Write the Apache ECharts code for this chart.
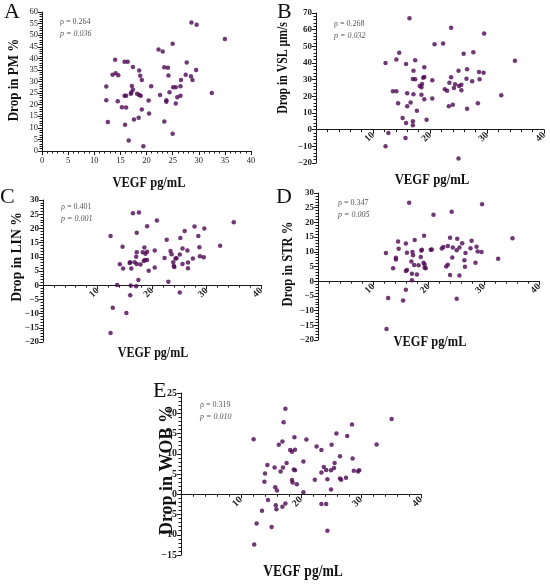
<!DOCTYPE html>
<html><head><meta charset="utf-8">
<script src="https://cdn.jsdelivr.net/npm/echarts@6/dist/echarts.min.js"></script>
<style>html,body{margin:0;padding:0;background:#fff}#c{width:550px;height:584px}</style>
</head><body><div id="c"></div>
<script>
// ---- data: [VEGF pg/mL, drop value] ----
const pmPoints = [[28.6,55.5],[29.6,54.5],[35.0,48.3],[25.0,46.3],[22.3,43.8],[23.1,43.0],[14.0,39.4],[15.8,38.5],[16.4,38.5],[27.7,38.2],[17.4,36.3],[23.4,36.1],[24.1,35.9],[18.6,34.8],[29.5,35.0],[13.5,32.9],[14.1,33.6],[14.6,32.7],[18.8,32.5],[19.1,30.7],[24.2,32.6],[27.5,32.9],[28.5,32.3],[28.8,30.7],[26.6,30.6],[12.3,27.8],[12.3,21.9],[20.9,28.0],[17.2,28.1],[17.4,26.4],[17.1,25.2],[17.0,24.7],[25.1,27.5],[25.6,27.5],[26.5,28.0],[18.2,24.7],[18.6,24.2],[18.9,23.8],[15.8,23.8],[16.1,23.9],[22.6,24.2],[26.5,23.9],[25.9,23.2],[24.4,25.4],[23.8,21.9],[23.8,21.3],[14.5,21.5],[20.4,21.8],[25.6,20.5],[15.3,18.9],[16.1,18.8],[19.1,17.9],[20.5,16.2],[12.6,12.5],[15.9,11.3],[17.6,13.6],[18.5,14.4],[23.4,12.7],[25.0,7.5],[16.6,4.5],[19.4,2.0],[32.5,25.0]];
const vslPoints = [[16.4,66.8],[23.7,61.2],[29.5,57.7],[20.8,51.3],[22.3,51.7],[25.9,45.5],[27.6,46.5],[34.9,41.4],[15.8,39.4],[17.4,41.7],[17.1,35.4],[19.0,37.4],[17.0,30.4],[17.4,30.2],[18.8,31.2],[19.0,31.6],[18.2,26.2],[18.5,25.4],[18.6,27.4],[20.4,29.6],[25.0,35.4],[26.5,36.2],[28.6,34.6],[29.4,34.2],[23.7,31.4],[26.4,30.6],[28.7,30.2],[27.4,29.0],[23.4,28.2],[22.6,24.3],[23.0,23.3],[24.4,27.2],[24.2,25.0],[25.1,26.2],[25.5,27.0],[25.5,23.7],[16.0,21.9],[17.1,21.3],[18.5,20.9],[19.0,18.3],[20.4,18.7],[32.5,20.7],[23.3,14.1],[24.0,14.9],[28.4,15.9],[26.5,12.5],[16.6,16.3],[16.0,14.1],[17.7,11.3],[19.4,6.0],[15.2,7.0],[15.8,4.0],[17.0,5.0],[17.0,2.6],[15.7,-5.0],[25.0,-17.3],[12.2,40.0],[12.2,-9.9],[12.7,-2.0],[13.5,23.1],[14.1,23.1],[14.1,42.1],[14.6,46.1],[14.4,15.9]];
const linPoints = [[16.5,25.3],[17.6,25.6],[20.9,22.8],[12.4,17.3],[19.1,20.8],[17.2,18.5],[35.0,22.2],[27.8,20.7],[29.6,20.0],[26.0,19.1],[28.5,17.3],[22.7,16.0],[25.2,16.6],[32.5,13.9],[28.7,13.4],[14.6,13.5],[18.6,13.3],[17.2,11.6],[18.3,11.6],[18.8,11.1],[19.1,11.8],[20.5,12.2],[23.4,12.0],[23.6,10.9],[25.6,12.9],[26.5,12.2],[25.1,10.8],[17.1,10.0],[22.3,9.6],[24.3,9.4],[24.5,9.5],[28.8,10.2],[29.5,9.8],[27.5,9.4],[23.9,8.1],[26.6,8.0],[25.6,7.5],[18.5,8.5],[18.7,8.9],[19.1,8.9],[15.9,7.8],[16.0,8.1],[16.8,8.1],[17.2,7.5],[17.9,7.3],[14.1,7.4],[16.2,5.9],[14.7,5.9],[19.4,5.1],[20.5,6.2],[24.0,6.8],[24.1,6.4],[26.6,6.0],[17.5,1.8],[23.0,1.2],[13.6,0.1],[16.1,-0.1],[17.1,-0.4],[25.1,-2.6],[16.0,-3.5],[12.8,-7.9],[15.3,-9.8],[12.4,-16.8]];
const strPoints = [[16.5,26.7],[29.7,26.2],[20.9,22.6],[24.2,23.6],[35.2,14.6],[19.2,15.5],[23.9,14.8],[25.2,14.4],[17.5,14.0],[27.8,13.8],[14.5,13.5],[15.9,12.8],[26.1,12.9],[23.5,12.0],[22.7,11.6],[22.4,11.1],[24.4,11.5],[25.6,11.5],[25.1,10.5],[27.6,11.2],[28.7,11.7],[28.9,10.1],[29.6,9.9],[14.6,11.0],[20.4,10.7],[20.6,10.8],[18.7,10.4],[18.8,10.7],[17.1,9.9],[17.2,8.8],[16.1,9.7],[12.3,9.6],[26.7,9.6],[14.1,8.0],[14.1,7.4],[18.6,8.2],[24.3,8.1],[32.6,7.6],[16.9,6.7],[19.1,6.3],[19.3,5.7],[26.5,7.1],[28.5,6.3],[17.4,5.5],[18.2,5.4],[23.5,5.6],[23.2,5.0],[19.3,4.6],[19.5,4.4],[26.6,4.9],[13.6,4.4],[16.1,3.8],[15.9,3.5],[17.0,2.5],[17.9,2.3],[23.9,2.1],[25.6,1.9],[17.0,0.3],[15.9,-2.9],[12.7,-5.7],[15.4,-6.6],[25.1,-6.0],[12.4,-16.3]];
const wobPoints = [[17.4,21.1],[17.1,17.8],[35.1,18.6],[28.5,17.2],[12.1,13.6],[25.9,15.0],[27.7,14.4],[18.9,14.1],[20.9,13.5],[16.9,13.0],[16.3,12.2],[32.6,12.3],[22.6,11.8],[25.1,12.2],[18.2,10.9],[18.5,10.5],[19.0,11.0],[23.4,10.9],[26.5,9.4],[20.4,8.1],[17.6,7.7],[28.6,8.8],[25.6,7.7],[14.4,7.2],[17.0,6.6],[15.6,6.6],[23.8,6.7],[16.6,5.6],[18.8,6.1],[19.0,5.9],[24.2,6.0],[25.0,5.9],[25.5,6.5],[23.4,5.4],[28.8,5.8],[29.5,5.6],[29.7,5.9],[14.0,5.1],[13.9,3.1],[18.5,3.5],[18.6,2.9],[19.3,2.5],[22.3,3.6],[24.4,3.7],[26.5,3.9],[26.7,3.6],[27.5,4.1],[15.7,1.7],[16.0,0.9],[25.0,1.2],[20.4,0.5],[14.5,-1.4],[15.8,-2.7],[15.9,-3.7],[16.9,-3.1],[17.4,-2.3],[23.4,-2.4],[24.2,-2.4],[13.5,-4.1],[15.1,-8.1],[12.6,-7.2],[24.4,-9.0],[12.2,-12.4]];

const panelLetters = ['A','B','C','D','E'];
const yTitles = ['Drop in PM %','Drop in VSL μm/s','Drop in LIN %','Drop in STR %','Drop in WOB %'];
const xTitle = 'VEGF pg/mL';
const rhoValues = ['0.264','0.268','0.401','0.347','0.319'];
const pValues = ['0.036','0.032','0.001','0.005','0.010'];
const yRanges = [[0,60,5],[-20,70,10],[-20,30,5],[-20,30,5],[-15,25,5]];
const xTickStep = [5,10,10,10,10];
const allPoints = [pmPoints, vslPoints, linPoints, strPoints, wobPoints];

// ---- layout ----
const grids = [
  {left:42, top:12, width:209, height:139},
  {left:316, top:13, width:228, height:150},
  {left:43, top:200, width:218, height:142},
  {left:318, top:193, width:221, height:147},
  {left:181, top:393, width:240, height:162}
];
// letter [x,y]; y title [cx,cy,size,scale]; x title [cx,cy,size,scale]; annotation [x,y]; label sizes [y, x]
const layout = [
  {letter:[4,1],     yt:[14,80,14,0.93],   xt:[149,183,15,0.83],  ann:[60,22],   ls:[8.5,8.5]},
  {letter:[277,1],   yt:[283,68,14,0.84],  xt:[432,180,15,0.85],  ann:[334,24],  ls:[9,9.5]},
  {letter:[0,186],   yt:[17,257,15,0.91],  xt:[153,353,15,0.80],  ann:[61,207],  ls:[9,9.5]},
  {letter:[276,186], yt:[288,264,15,0.84], xt:[430,342,15,0.83],  ann:[338,203], ls:[9,9.5]},
  {letter:[153,380], yt:[167,470,18,1.0],  xt:[303,572,17,0.80],  ann:[200,405], ls:[10,10]}
];

const SERIF = '"Liberation Serif","DejaVu Serif",serif';
const INK = '#1a1a1a';
const fmt = v => (v < 0 ? '\u2212' + Math.abs(v) : String(v));

const xAxes = [], yAxes = [], series = [], graphics = [];
for (let i = 0; i < 5; i++) {
  const rotated = i > 0;
  const [ymin, ymax, yint] = yRanges[i];
  // place the x axis on the value 0 of the y scale
  const zeroOffset = -grids[i].height * (0 - ymin) / (ymax - ymin);
  const L = layout[i];
  xAxes.push({
    type:'value', gridIndex:i, min:0, max:40, interval:xTickStep[i],
    offset: zeroOffset,
    axisLine:{show:true, onZero:false, lineStyle:{color:INK, width:1}},
    axisTick:{show:true, length:4, lineStyle:{color:INK}},
    minorTick:{show:true, splitNumber:5, length:2.5, lineStyle:{color:INK}},
    splitLine:{show:false},
    axisLabel:{
      show:true, showMinLabel:true, showMaxLabel:true, fontFamily:SERIF, fontSize:L.ls[1],
      fontWeight: rotated ? 'bold' : 'normal', color:'#222',
      rotate: rotated ? 45 : 0, margin: rotated ? 4 : 5,
      formatter: v => (rotated && v === 0) ? '' : fmt(v)
    }
  });
  yAxes.push({
    type:'value', gridIndex:i, min:ymin, max:ymax, interval:yint,
    axisLine:{show:true, onZero:false, lineStyle:{color:INK, width:1}},
    axisTick:{show:true, length:4, lineStyle:{color:INK}},
    minorTick:{show:true, splitNumber:5, length:2.5, lineStyle:{color:INK}},
    splitLine:{show:false},
    axisLabel:{showMinLabel:true, showMaxLabel:true, fontFamily:SERIF, fontSize:L.ls[0],
      fontWeight: rotated ? 'bold' : 'normal', color:'#222', margin:4, formatter: fmt}
  });
  series.push({
    type:'scatter', xAxisIndex:i, yAxisIndex:i, data:allPoints[i],
    symbol:'circle', symbolSize:4.5, itemStyle:{color:'#4c0752'}
  });
  graphics.push({type:'text', x:L.letter[0], y:L.letter[1],
    style:{text:panelLetters[i], font:'22px ' + SERIF, fill:'#111', textAlign:'left', textVerticalAlign:'top'}});
  graphics.push({type:'text', x:L.yt[0], y:L.yt[1], rotation:Math.PI/2, scaleX:L.yt[3],
    style:{text:yTitles[i], font:'bold ' + L.yt[2] + 'px ' + SERIF, fill:'#111', textAlign:'center', textVerticalAlign:'middle'}});
  graphics.push({type:'text', x:L.xt[0], y:L.xt[1], scaleX:L.xt[3],
    style:{text:xTitle, font:'bold ' + L.xt[2] + 'px ' + SERIF, fill:'#111', textAlign:'center', textVerticalAlign:'middle'}});
  graphics.push({type:'text', x:L.ann[0], y:L.ann[1],
    style:{text:'\u03C1 = ' + rhoValues[i], font:'8px ' + SERIF, fill:'#555', textAlign:'left', textVerticalAlign:'middle'}});
  graphics.push({type:'text', x:L.ann[0], y:L.ann[1] + 11.5,
    style:{text:'p = ' + pValues[i], font:'italic 8px ' + SERIF, fill:'#555', textAlign:'left', textVerticalAlign:'middle'}});
}

const chart = echarts.init(document.getElementById('c'));
chart.setOption({
  animation:false,
  backgroundColor:'#fff',
  grid: grids,
  xAxis: xAxes, yAxis: yAxes, series: series, graphic: graphics
});
</script></body></html>
